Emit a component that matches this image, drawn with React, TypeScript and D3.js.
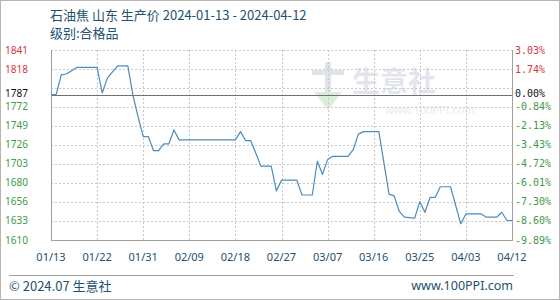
import React from "react";
import * as d3 from "d3";

const W = 560;
const H = 300;

// ---- data (vertices) ----
const dates = [
  "2024-01-13", "2024-01-14", "2024-01-15", "2024-01-16", "2024-01-18", "2024-01-22",
  "2024-01-23", "2024-01-24", "2024-01-26", "2024-01-28", "2024-01-29", "2024-01-30",
  "2024-01-31", "2024-02-01", "2024-02-02", "2024-02-03", "2024-02-04", "2024-02-05",
  "2024-02-06", "2024-02-07", "2024-02-18", "2024-02-19", "2024-02-20", "2024-02-21",
  "2024-02-23", "2024-02-25", "2024-02-26", "2024-02-27", "2024-03-01", "2024-03-02",
  "2024-03-04", "2024-03-05", "2024-03-06", "2024-03-07", "2024-03-08", "2024-03-11",
  "2024-03-12", "2024-03-13", "2024-03-14", "2024-03-17", "2024-03-19", "2024-03-20",
  "2024-03-21", "2024-03-22", "2024-03-24", "2024-03-25", "2024-03-26", "2024-03-27",
  "2024-03-28", "2024-03-29", "2024-03-31", "2024-04-02", "2024-04-03", "2024-04-06",
  "2024-04-07", "2024-04-09", "2024-04-10", "2024-04-11", "2024-04-12",
];
const prices = [
  1787, 1787, 1811, 1812, 1820, 1820,
  1789, 1807, 1822, 1822, 1786, 1760,
  1736, 1736, 1719, 1719, 1727, 1727,
  1744, 1732, 1732, 1742, 1731, 1731,
  1700, 1700, 1670, 1683, 1683, 1665,
  1665, 1706, 1690, 1708, 1712, 1712,
  1720, 1739, 1742, 1742, 1666, 1664,
  1645, 1638, 1637, 1657, 1644, 1662,
  1662, 1675, 1675, 1630, 1642, 1642,
  1638, 1638, 1644, 1634, 1634,
];

const baseValue = 1787;
const baseLabel = "1787";
const basePctLabel = "0.00%";

// evenly spaced grid values (min..max of the axis)
const yTickValues = [1610.3, 1633.4, 1656.5, 1679.6, 1702.7, 1725.8, 1748.9, 1772.0, 1795.0, 1818.1, 1841.2];
const yTickLabels = ["1610", "1633", "1656", "1680", "1703", "1726", "1749", "1772", "", "1818", "1841"];
const pctLabels = ["-9.89%", "-8.60%", "-7.30%", "-6.01%", "-4.72%", "-3.43%", "-2.13%", "-0.84%", "", "1.74%", "3.03%"];

const xTickDates = [
  "2024-01-13", "2024-01-22", "2024-01-31", "2024-02-09", "2024-02-18", "2024-02-27",
  "2024-03-07", "2024-03-16", "2024-03-25", "2024-04-03", "2024-04-12",
];
const xTickLabels = ["01/13", "01/22", "01/31", "02/09", "02/18", "02/27", "03/07", "03/16", "03/25", "04/03", "04/12"];

const titleText = "石油焦 山东 生产价 2024-01-13 - 2024-04-12";
const subtitleText = "级别:合格品";
const footerLeft = "© 2024.07 生意社";
const footerRight = "www.100PPI.com";

const parse = d3.timeParse("%Y-%m-%d");

export default function App() {
  const left = 51, right = 512, top = 50, bottom = 240;
  const x = d3.scaleTime()
    .domain([parse("2024-01-13")!, parse("2024-04-12")!])
    .range([left, right]);
  const y = d3.scaleLinear()
    .domain([yTickValues[0], yTickValues[yTickValues.length - 1]])
    .range([bottom, top]);

  const pts = dates.map((d, i) => [x(parse(d)!), y(prices[i])] as [number, number]);
  const line = d3.line()(pts) || "";

  const red = "#cf3a42";
  const green = "#3f9a45";
  const blue = "#24506f";
  const cjk = "'Noto Sans CJK SC', 'Noto Sans', sans-serif";

  return (
    <svg width={W} height={H} style={{ position: "fixed", left: 0, top: 0, display: "block", background: "#fff" }}>
      <rect x={0.5} y={0.5} width={W - 1} height={H - 1} fill="#fff" stroke="#b5b5b5" />

      {/* watermark */}
      <g opacity={0.9}>
        <rect x={312} y={70} width={32} height={5} fill="#dde2e8" />
        <rect x={325} y={62} width={6} height={30} fill="#dde2e8" />
        <path d="M314,92 L342,92 L328,110 Z" fill="#d6eed8" />
        <text x={352} y={92} fontFamily={cjk} fontSize={28} fill="#dfe4ea" fontWeight={700}>生意社</text>
        <text x={385} y={114} fontFamily="'Noto Sans', sans-serif" fontSize={11} fill="#e7eaee">www.100PPI.com</text>
      </g>

      {/* title */}
      <text x={50} y={20} fontFamily={cjk} fontSize={13} fill={blue}>{titleText}</text>
      <text x={50} y={38} fontFamily={cjk} fontSize={13} fill={blue}>{subtitleText}</text>

      {/* horizontal grid */}
      {yTickValues.map((v, i) =>
        i === 0 ? null : (
          <line key={"hg" + i} x1={left} x2={right} y1={Math.round(y(v)) + 0.5} y2={Math.round(y(v)) + 0.5}
            stroke="#c8c8c8" strokeDasharray="2,2" />
        )
      )}
      {/* vertical grid */}
      {xTickDates.map((d, i) =>
        i === 0 || i === xTickDates.length - 1 ? null : (
          <line key={"vg" + i} x1={Math.round(x(parse(d)!)) + 0.5} x2={Math.round(x(parse(d)!)) + 0.5} y1={top} y2={bottom}
            stroke="#c8c8c8" strokeDasharray="2,2" />
        )
      )}
      {/* base line */}
      <line x1={left} x2={right} y1={Math.round(y(baseValue)) + 0.5} y2={Math.round(y(baseValue)) + 0.5} stroke="#707070" />

      {/* frame */}
      <line x1={left + 0.5} x2={left + 0.5} y1={top} y2={bottom + 1} stroke="#a0a0a0" />
      <line x1={right + 0.5} x2={right + 0.5} y1={top} y2={bottom + 1} stroke="#a0a0a0" />
      <line x1={left} x2={right + 1} y1={bottom + 0.5} y2={bottom + 0.5} stroke="#a0a0a0" />

      {/* price line */}
      <path d={line} fill="none" stroke="#4b8cbc" strokeWidth={1.2} strokeLinejoin="round" />

      {/* y labels left */}
      {yTickValues.map((v, i) =>
        yTickLabels[i] ? (
          <text key={"yl" + i} x={5} y={y(v)} dy="0.35em" fontFamily="'Noto Sans', sans-serif" fontSize={10}
            fill={v > baseValue ? red : green}>{yTickLabels[i]}</text>
        ) : null
      )}
      <text x={5} y={y(baseValue) - 1} dy="0.35em" fontFamily="'Noto Sans', sans-serif" fontSize={10} fill="#111">{baseLabel}</text>

      {/* y labels right */}
      {yTickValues.map((v, i) =>
        pctLabels[i] ? (
          <text key={"yr" + i} x={515} y={y(v)} dy="0.35em" fontFamily="'DejaVu Sans Mono', monospace" fontSize={10}
            fill={v > baseValue ? red : green}>{pctLabels[i]}</text>
        ) : null
      )}
      <text x={515} y={y(baseValue) - 1} dy="0.35em" fontFamily="'DejaVu Sans Mono', monospace" fontSize={10} fill="#111">{basePctLabel}</text>

      {/* x labels */}
      {xTickDates.map((d, i) => (
        <text key={"xl" + i} x={x(parse(d)!)} y={257} dy="0.35em" textAnchor="middle"
          fontFamily="'Noto Sans', sans-serif" fontSize={11} fill={blue}>{xTickLabels[i]}</text>
      ))}

      {/* footer */}
      <line x1={9} x2={514} y1={275.5} y2={275.5} stroke="#a0a0a0" />
      <text x={9} y={286} dy="0.35em" fontFamily={cjk} fontSize={13} fill={blue}>{footerLeft}</text>
      <text x={513} y={286} dy="0.35em" textAnchor="end" fontFamily="'Noto Sans', sans-serif" fontSize={12.5} fill={blue}>{footerRight}</text>
    </svg>
  );
}
